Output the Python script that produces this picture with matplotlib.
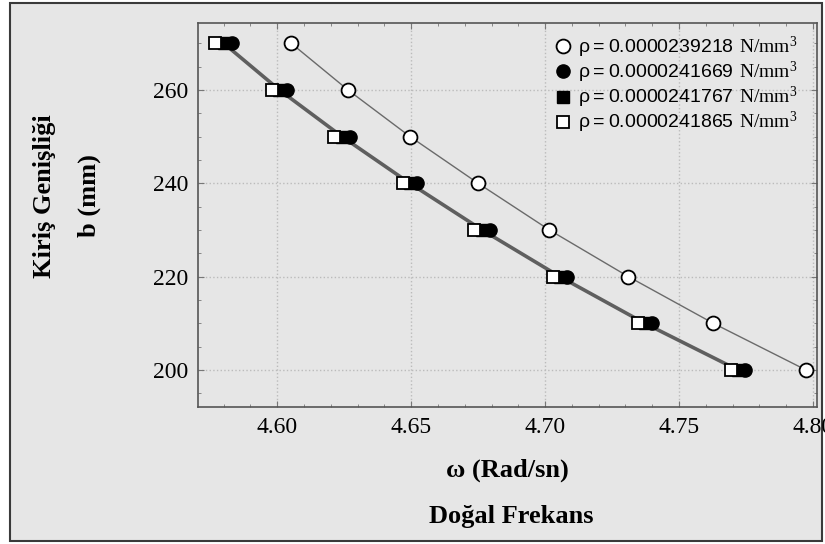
import matplotlib
matplotlib.use('Agg')
import matplotlib.pyplot as plt
from matplotlib.patches import Rectangle
from matplotlib.ticker import MultipleLocator

# beam width b (mm)
b = [270, 260, 250, 240, 230, 220, 210, 200]

# natural frequency w (rad/s) for each density
w_239218 = [4.6052, 4.6264, 4.6496, 4.6750, 4.7016, 4.7311, 4.7628, 4.7974]
w_241669 = [4.5832, 4.6036, 4.6270, 4.6520, 4.6795, 4.7081, 4.7398, 4.7748]
w_241767 = [4.5800, 4.6008, 4.6242, 4.6495, 4.6765, 4.7055, 4.7372, 4.7720]
w_241865 = [4.5769, 4.5980, 4.6213, 4.6470, 4.6735, 4.7029, 4.7346, 4.7693]

labels = ['0.0000239218', '0.0000241669', '0.0000241767', '0.0000241865']
xticks = [4.60, 4.65, 4.70, 4.75, 4.80]
yticks = [200, 220, 240, 260]

plt.rcParams['font.family'] = ['Liberation Serif', 'DejaVu Serif']
plt.rcParams['mathtext.fontset'] = 'custom'
plt.rcParams['mathtext.rm'] = 'Liberation Serif'
plt.rcParams['mathtext.sf'] = 'Liberation Sans'

bg = '#e6e6e6'


def main():
    fig = plt.figure(figsize=(8.25, 5.44), dpi=100, facecolor='white')
    fig.patches.append(Rectangle((10/825, 3/544), 812/825, 538/544, transform=fig.transFigure,
                                 facecolor=bg, edgecolor='#3a3a3a', linewidth=1.5, zorder=-5))

    ax = fig.add_axes([198/825, 1-407/544, 619/825, 384/544])
    ax.set_facecolor(bg)

    def lab(v):
        return r'$\mathsf{ρ=' + v + r'}\ \mathrm{N/mm^3}$'

    # thin line for the lightest density, one heavier line for the close group
    ax.plot(w_239218, b, color='#6a6a6a', lw=1.0, marker='o', ms=10, mfc='white',
            mec='black', mew=1.3, label=lab(labels[0]), zorder=3)
    ax.plot(w_241669, b, ls='None', marker='o', ms=9.5, mfc='black',
            mec='black', mew=1.0, label=lab(labels[1]), zorder=4)
    ax.plot(w_241767, b, color='#5f5f5f', lw=2.6, marker='s', ms=8.5, mfc='black',
            mec='black', mew=1.0, label=lab(labels[2]), zorder=3.5)
    ax.plot(w_241865, b, ls='None', marker='s', ms=8.5, mfc='white',
            mec='black', mew=1.3, label=lab(labels[3]), zorder=6)

    ax.set_xlim(4.5704, 4.8015)
    ax.set_ylim(192.07, 274.35)
    ax.set_xticks(xticks)
    ax.set_xticklabels(['%.2f' % v for v in xticks])
    ax.set_yticks(yticks)
    ax.xaxis.set_minor_locator(MultipleLocator(0.01))
    ax.yaxis.set_minor_locator(MultipleLocator(5))
    ax.tick_params(which='both', direction='in', top=True, right=True, color='#777777')
    ax.tick_params(which='major', length=4, labelsize=17, pad=7,
                   labelfontfamily='Liberation Serif')
    ax.tick_params(which='minor', length=2.5)
    ax.grid(True, which='major', linestyle=':', color='#bbbbbb', linewidth=1.0)
    ax.set_axisbelow(True)
    for s in ax.spines.values():
        s.set_color('#555555')
        s.set_linewidth(1.2)

    leg = ax.legend(loc='upper left', bbox_to_anchor=(0.565, 0.99), frameon=False,
                    fontsize=14, handlelength=0.8, handletextpad=0.35, labelspacing=0.0,
                    borderaxespad=0)
    for h in leg.legend_handles:
        h.set_linestyle('None')

    fig.text(507/825, 1-470/544, 'ω (Rad/sn)', ha='center', va='center',
             fontsize=19, fontweight='bold')
    fig.text(511/825, 1-516/544, 'Doğal Frekans', ha='center', va='center',
             fontsize=19, fontweight='bold')
    fig.text(45/825, 1-196/544, 'Kiriş Genişliği', ha='center', va='center',
             rotation=90, fontsize=19, fontweight='bold')
    fig.text(89/825, 1-196/544, 'b (mm)', ha='center', va='center',
             rotation=90, fontsize=19, fontweight='bold')

    fig.savefig('out.png', dpi=100, facecolor=fig.get_facecolor())


if __name__ == '__main__':
    main()
